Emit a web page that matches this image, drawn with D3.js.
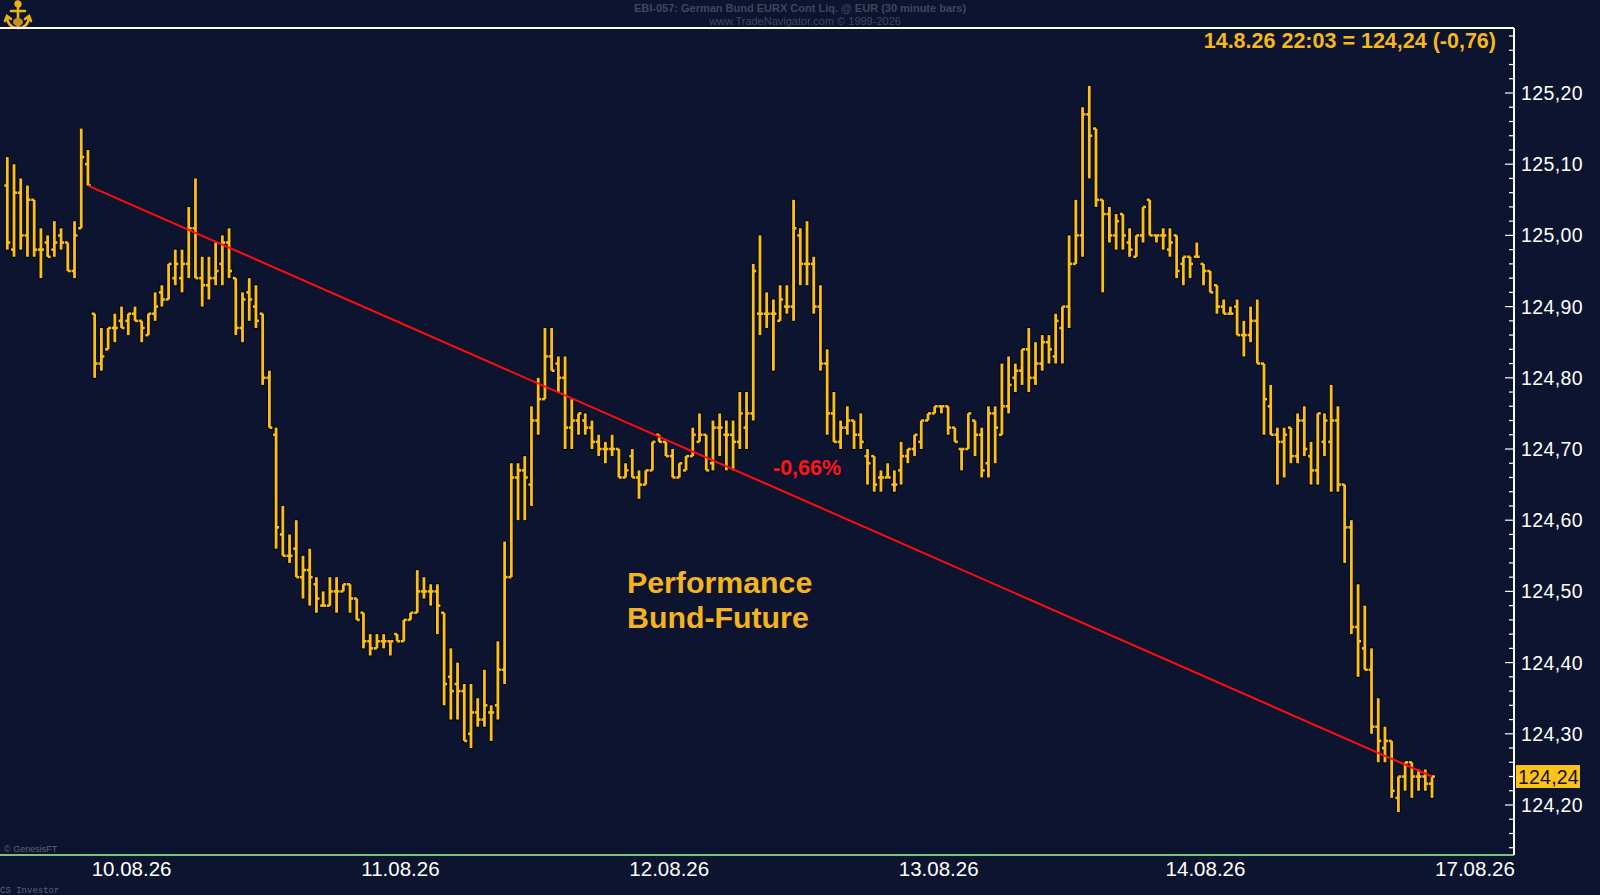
<!DOCTYPE html>
<html><head><meta charset="utf-8">
<script src="https://cdn.jsdelivr.net/npm/d3@7/dist/d3.min.js"></script>
<style>
html,body{margin:0;padding:0;background:#0c1430;overflow:hidden;}
svg{display:block;}
</style></head>
<body><svg id="c" width="1600" height="895"></svg>
<script>
// ---- data (30 minute bars, German Bund future) ----
const open = [
125.07,124.98,125.06,125.00,125.05,124.98,124.99,124.98,125.00,124.99,
124.95,125.01,125.10,124.89,124.82,124.84,124.87,124.88,124.88,124.89,
124.88,124.86,124.89,124.92,124.91,124.94,124.94,124.96,125.01,124.94,
124.93,124.94,124.96,124.99,124.94,124.87,124.92,124.90,124.89,124.80,
124.72,124.58,124.55,124.56,124.52,124.53,124.51,124.48,124.48,124.50,
124.50,124.51,124.49,124.47,124.43,124.42,124.43,124.43,124.44,124.43,
124.46,124.47,124.50,124.50,124.50,124.47,124.38,124.37,124.36,124.30,
124.33,124.32,124.33,124.34,124.39,124.52,124.66,124.67,124.65,124.74,
124.77,124.83,124.82,124.80,124.73,124.74,124.74,124.73,124.71,124.70,
124.70,124.70,124.66,124.69,124.66,124.65,124.67,124.72,124.71,124.69,
124.66,124.67,124.69,124.71,124.72,124.68,124.73,124.72,124.72,124.71,
124.73,124.75,124.89,124.89,124.89,124.88,124.90,124.90,125.00,124.96,
124.96,124.90,124.82,124.75,124.71,124.73,124.74,124.72,124.69,124.69,
124.66,124.66,124.65,124.67,124.69,124.70,124.71,124.74,124.75,124.76,
124.76,124.73,124.70,124.70,124.74,124.72,124.68,124.75,124.72,124.76,
124.80,124.81,124.84,124.80,124.82,124.85,124.83,124.87,124.90,124.96,
125.00,125.17,125.15,125.05,125.03,125.00,125.03,124.99,124.97,125.00,
125.05,125.00,125.00,124.98,125.00,124.96,124.97,124.97,124.96,124.95,
124.93,124.90,124.89,124.90,124.86,124.86,124.88,124.82,124.76,124.72,
124.71,124.73,124.69,124.74,124.69,124.67,124.71,124.71,124.74,124.65,
124.59,124.45,124.42,124.39,124.31,124.28,124.29,124.21,124.24,124.26,
124.24,124.24,124.23];
const high = [
125.11,125.10,125.08,125.07,125.05,125.01,125.00,125.02,125.01,124.99,
125.02,125.15,125.12,124.89,124.87,124.87,124.89,124.90,124.89,124.90,
124.88,124.89,124.92,124.93,124.96,124.98,124.98,125.04,125.08,124.97,
124.97,124.99,125.00,125.01,124.94,124.92,124.94,124.93,124.89,124.81,
124.73,124.62,124.58,124.60,124.55,124.56,124.52,124.50,124.52,124.52,
124.51,124.51,124.49,124.47,124.44,124.44,124.44,124.43,124.44,124.46,
124.47,124.53,124.52,124.51,124.51,124.47,124.42,124.40,124.37,124.37,
124.35,124.39,124.34,124.43,124.57,124.68,124.68,124.69,124.76,124.80,
124.87,124.87,124.83,124.83,124.77,124.75,124.75,124.74,124.72,124.71,
124.72,124.70,124.68,124.70,124.67,124.67,124.71,124.72,124.71,124.70,
124.68,124.69,124.73,124.75,124.72,124.74,124.75,124.74,124.74,124.78,
124.78,124.96,125.00,124.92,124.91,124.93,124.93,125.05,125.01,125.02,
124.97,124.93,124.84,124.78,124.74,124.76,124.74,124.75,124.70,124.69,
124.67,124.68,124.67,124.71,124.70,124.72,124.74,124.75,124.76,124.76,
124.76,124.73,124.70,124.75,124.74,124.73,124.76,124.76,124.82,124.83,
124.82,124.84,124.87,124.85,124.86,124.86,124.89,124.90,125.00,125.05,
125.18,125.21,125.15,125.05,125.04,125.03,125.03,125.01,125.00,125.04,
125.05,125.00,125.01,125.01,125.00,124.97,124.97,124.99,124.96,124.95,
124.93,124.91,124.90,124.91,124.88,124.90,124.91,124.82,124.79,124.73,
124.73,124.73,124.75,124.76,124.71,124.75,124.75,124.79,124.76,124.65,
124.60,124.51,124.48,124.42,124.35,124.31,124.29,124.24,124.26,124.26,
124.25,124.25,124.24];
const low = [
124.98,124.97,124.98,124.97,124.97,124.94,124.97,124.97,124.98,124.95,
124.94,125.01,125.07,124.80,124.81,124.84,124.85,124.87,124.86,124.88,
124.85,124.86,124.88,124.90,124.91,124.93,124.92,124.94,124.94,124.90,
124.91,124.93,124.93,124.94,124.86,124.85,124.88,124.87,124.79,124.73,
124.56,124.55,124.54,124.52,124.49,124.48,124.47,124.48,124.48,124.47,
124.50,124.47,124.46,124.42,124.41,124.42,124.42,124.41,124.43,124.43,
124.46,124.47,124.49,124.48,124.44,124.34,124.32,124.32,124.29,124.28,
124.31,124.31,124.29,124.32,124.37,124.52,124.60,124.60,124.62,124.72,
124.77,124.81,124.78,124.70,124.70,124.72,124.72,124.70,124.69,124.68,
124.69,124.66,124.66,124.66,124.63,124.65,124.67,124.71,124.69,124.66,
124.66,124.67,124.69,124.71,124.67,124.67,124.69,124.67,124.67,124.70,
124.70,124.74,124.86,124.87,124.81,124.88,124.89,124.88,124.93,124.93,
124.89,124.81,124.72,124.71,124.70,124.72,124.70,124.70,124.65,124.64,
124.64,124.66,124.64,124.65,124.68,124.69,124.70,124.74,124.75,124.75,
124.72,124.71,124.67,124.70,124.69,124.66,124.66,124.68,124.72,124.75,
124.78,124.79,124.78,124.79,124.81,124.82,124.82,124.82,124.87,124.96,
124.97,125.08,125.04,124.92,124.99,124.98,124.98,124.97,124.97,124.99,
125.00,124.99,124.98,124.97,124.94,124.93,124.94,124.97,124.93,124.92,
124.89,124.89,124.89,124.86,124.83,124.85,124.82,124.72,124.72,124.65,
124.66,124.68,124.68,124.69,124.65,124.65,124.69,124.64,124.64,124.54,
124.44,124.38,124.39,124.30,124.26,124.26,124.21,124.19,124.22,124.21,
124.22,124.22,124.21];
const close = [
124.99,125.06,125.00,125.05,124.98,124.98,124.97,124.99,124.99,124.95,
125.00,125.11,125.07,124.82,124.83,124.87,124.87,124.87,124.89,124.88,
124.87,124.89,124.90,124.91,124.96,124.96,124.96,125.01,124.94,124.93,
124.94,124.95,124.99,124.95,124.87,124.91,124.91,124.88,124.80,124.73,
124.59,124.55,124.55,124.52,124.53,124.52,124.49,124.48,124.50,124.50,
124.51,124.49,124.46,124.43,124.42,124.43,124.43,124.43,124.43,124.46,
124.47,124.50,124.50,124.50,124.48,124.37,124.36,124.36,124.29,124.33,
124.32,124.34,124.33,124.39,124.52,124.66,124.67,124.66,124.74,124.77,
124.83,124.81,124.80,124.73,124.74,124.75,124.73,124.71,124.70,124.70,
124.70,124.66,124.67,124.66,124.65,124.67,124.71,124.71,124.69,124.66,
124.68,124.69,124.72,124.72,124.67,124.73,124.73,124.72,124.71,124.75,
124.75,124.95,124.89,124.89,124.89,124.91,124.90,125.01,124.96,124.96,
124.90,124.82,124.75,124.71,124.73,124.74,124.72,124.71,124.68,124.65,
124.66,124.66,124.65,124.69,124.70,124.72,124.74,124.75,124.76,124.76,
124.73,124.71,124.70,124.75,124.72,124.67,124.75,124.73,124.76,124.79,
124.81,124.84,124.80,124.82,124.85,124.84,124.88,124.90,124.96,125.00,
125.17,125.14,125.05,125.03,125.00,125.02,125.00,124.98,125.00,125.04,
125.00,125.00,125.00,124.99,124.95,124.97,124.96,124.97,124.95,124.92,
124.90,124.89,124.89,124.86,124.86,124.88,124.82,124.77,124.72,124.71,
124.72,124.69,124.74,124.70,124.67,124.75,124.74,124.74,124.65,124.59,
124.45,124.43,124.39,124.31,124.29,124.29,124.22,124.24,124.26,124.24,
124.24,124.23,124.24];

const dateLabels   = ["10.08.26","11.08.26","12.08.26","13.08.26","14.08.26","17.08.26"];
const dateBarIndex = [18.5, 58.5, 98.5, 138.6, 178.3, 218.4];
const priceTicks   = [124.20,124.30,124.40,124.50,124.60,124.70,124.80,124.90,125.00,125.10,125.20];
const trendFrom = 12, trendTo = 212;   // bar indices of the performance line
const lastPrice = 124.24;
const headerText = "14.8.26 22:03 = 124,24 (-0,76)";
const perfText = "-0,66%";

// ---- layout ----
const svg = d3.select("#c");
const gold = "#fcbf17", bg = "#0c1430";
const plotRight = 1514, plotTop = 28, plotBottom = 855;
svg.append("rect").attr("width",1600).attr("height",895).attr("fill",bg);

const x = d3.scaleLinear().domain([0, open.length-1]).range([7.3, 1432]);
const y = d3.scaleLinear().domain([124.20, 125.20]).range([805, 93]);
const fmt = v => d3.format(".2f")(v).replace(".", ",");

// header
svg.append("text").attr("x",800).attr("y",12).attr("text-anchor","middle")
  .attr("font-family","Liberation Sans Narrow, Liberation Sans, Arial, sans-serif").attr("font-size",11).attr("font-weight","bold")
  .attr("fill","#3f475b").text("EBI-057:  German Bund EURX Cont Liq. @ EUR  (30 minute bars)");
svg.append("text").attr("x",805).attr("y",25).attr("text-anchor","middle")
  .attr("font-family","Liberation Sans, Arial, sans-serif").attr("font-size",11)
  .attr("fill","#3f475b").text("www.TradeNavigator.com \u00A9 1999-2026");

// logo (small gold anchor)
const lg = svg.append("g").attr("transform","translate(18,16)").attr("fill","none").attr("stroke","#e8b21a").attr("stroke-width",2.6).attr("stroke-linecap","round");
lg.append("line").attr("x1",0).attr("y1",-11).attr("x2",0).attr("y2",11);
lg.append("line").attr("x1",-7).attr("y1",-5).attr("x2",7).attr("y2",-5);
lg.append("path").attr("d","M-11,1 Q-10,12 0,12 Q10,12 11,1");
lg.append("circle").attr("cx",0).attr("cy",-12).attr("r",2.4).attr("fill","#e8b21a");
lg.append("path").attr("d","M-13,5 L-11,0 L-7,3 M13,5 L11,0 L7,3");
lg.append("ellipse").attr("cx",0).attr("cy",6).attr("rx",5).attr("ry",4).attr("fill","#c8901a").attr("stroke","none");

// frame
svg.append("line").attr("x1",0).attr("x2",plotRight).attr("y1",plotTop).attr("y2",plotTop).attr("stroke","#ffffff").attr("stroke-width",2);
svg.append("line").attr("x1",0).attr("x2",plotRight).attr("y1",plotBottom).attr("y2",plotBottom).attr("stroke","#79c47a").attr("stroke-width",2);
svg.append("line").attr("x1",plotRight).attr("x2",plotRight).attr("y1",plotTop).attr("y2",plotBottom).attr("stroke","#ffffff").attr("stroke-width",2);

// right axis ticks
const minor = d3.range(124.14, 125.30, 0.02).map(v => Math.round(v*100)/100);
svg.append("g").selectAll("line").data(minor).join("line")
  .attr("x1", d => (Math.round(d*100) % 10 === 0) ? plotRight-9 : plotRight-5)
  .attr("x2", plotRight).attr("y1", d => y(d)).attr("y2", d => y(d))
  .attr("stroke","#ffffff").attr("stroke-width",1.2);
svg.append("g").selectAll("text").data(priceTicks).join("text")
  .attr("x",1521).attr("y", d => y(d)+7)
  .attr("font-family","Liberation Sans, Arial, sans-serif").attr("font-size",19.5)
  .attr("fill","#ffffff").attr("letter-spacing",0.4).text(fmt);

// last price box
svg.append("rect").attr("x",plotRight+2).attr("y",y(lastPrice)-11.5).attr("width",64).attr("height",23).attr("fill","#fcc21c");
svg.append("text").attr("x",plotRight+4).attr("y",y(lastPrice)+7).attr("font-family","Liberation Sans, Arial, sans-serif")
  .attr("font-size",19.5).attr("fill","#111").attr("letter-spacing",0.2).text(fmt(lastPrice));

// bottom date labels
svg.append("g").selectAll("text").data(dateLabels).join("text")
  .attr("x",(d,i) => x(dateBarIndex[i])).attr("y",876).attr("text-anchor","middle")
  .attr("font-family","Liberation Sans, Arial, sans-serif").attr("font-size",20.5)
  .attr("fill","#ffffff").text(d => d);

svg.append("text").attr("x",4).attr("y",852).attr("font-family","Liberation Sans Narrow, Liberation Sans, Arial, sans-serif")
  .attr("font-size",9).attr("fill","#5c6478").text("\u00A9 GenesisFT");
svg.append("text").attr("x",0).attr("y",893).attr("font-family","Liberation Mono, DejaVu Sans Mono, monospace")
  .attr("font-size",9).attr("fill","#5c6478").text("CS Investor");

// OHLC bars
const bars = svg.append("g");
const idx = d3.range(open.length);
const drawBars = (color, wV, wT, ext) => {
  const g = bars.append("g").attr("stroke",color);
  g.selectAll("line.v").data(idx).join("line").attr("class","v")
    .attr("x1", i => x(i)).attr("x2", i => x(i))
    .attr("y1", i => y(high[i]) - ext).attr("y2", i => y(low[i]) + ext)
    .attr("stroke-width", wV);
  g.selectAll("line.o").data(idx).join("line").attr("class","o")
    .attr("x1", i => x(i) - 3 - ext).attr("x2", i => x(i))
    .attr("y1", i => y(open[i])).attr("y2", i => y(open[i])).attr("stroke-width", wT);
  g.selectAll("line.c").data(idx).join("line").attr("class","c")
    .attr("x1", i => x(i)).attr("x2", i => x(i) + 3 + ext)
    .attr("y1", i => y(close[i])).attr("y2", i => y(close[i])).attr("stroke-width", wT);
};
drawBars("#03060f", 4.6, 4.4, 1);
drawBars(gold, 2.8, 2.6, 0);

// trend line
svg.append("line")
  .attr("x1", x(trendFrom)).attr("y1", y(close[trendFrom]))
  .attr("x2", x(trendTo)).attr("y2", y(close[trendTo]))
  .attr("stroke","#ff0d0d").attr("stroke-width",2);

// annotations
svg.append("text").attr("x",1496).attr("y",48).attr("text-anchor","end")
  .attr("font-family","Liberation Sans, Arial, sans-serif").attr("font-size",21.5).attr("font-weight","bold")
  .attr("fill","#f7b81c").text(headerText);
svg.append("text").attr("x",773).attr("y",475)
  .attr("font-family","Liberation Sans, Arial, sans-serif").attr("font-size",21.5).attr("font-weight","bold")
  .attr("fill","#ff1414").text(perfText);
const perf = svg.append("text").attr("font-family","Liberation Sans, Arial, sans-serif").attr("font-size",30.3)
  .attr("font-weight","bold").attr("fill","#f5b41d");
perf.append("tspan").attr("x",627).attr("y",593).text("Performance");
perf.append("tspan").attr("x",627).attr("y",628).text("Bund-Future");
</script></body></html>
